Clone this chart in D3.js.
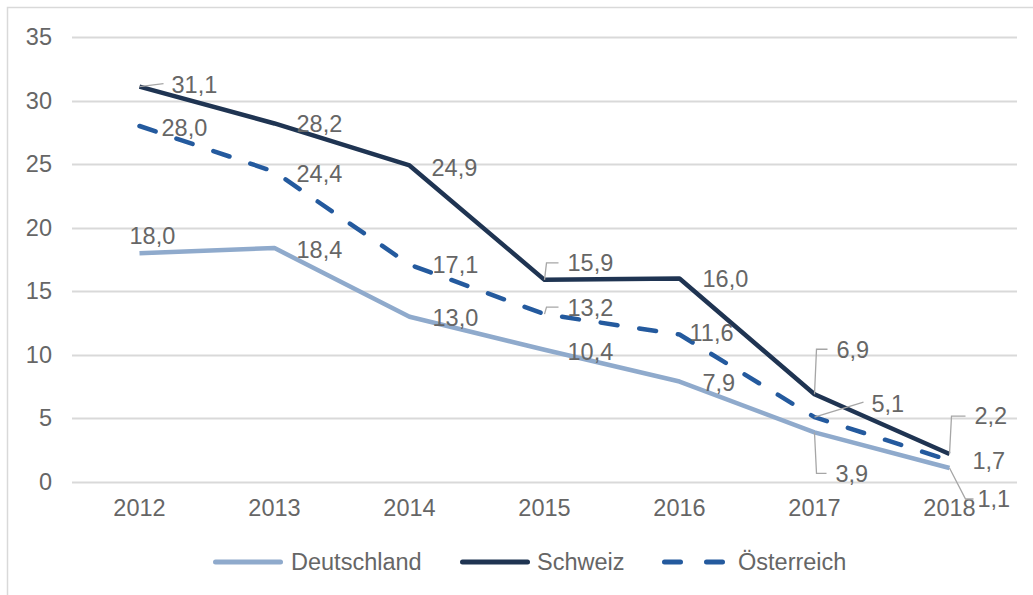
<!DOCTYPE html>
<html>
<head>
<meta charset="utf-8">
<script src="https://cdn.jsdelivr.net/npm/d3@7"></script>
<style>
  body { margin: 0; background: #fff; }
  text { font-family: "Liberation Sans", Arial, sans-serif; fill: #666666; }
</style>
</head>
<body>
<svg width="1033" height="595"></svg>
<script>
// data
var years = ["2012", "2013", "2014", "2015", "2016", "2017", "2018"];
var deutschland = [18.0, 18.4, 13.0, 10.4, 7.9, 3.9, 1.1];
var schweiz = [31.1, 28.2, 24.9, 15.9, 16.0, 6.9, 2.2];
var oesterreich = [28.0, 24.4, 17.1, 13.2, 11.6, 5.1, 1.7];
var yTicks = [0, 5, 10, 15, 20, 25, 30, 35];

// label offsets from the point [dx, dy, leader type]
var labelPos = {
  Deutschland: [[-10, -18, ""], [22, 1, ""], [23, 1, ""], [23, 2, ""], [23, 1, ""], [21, 41, "elbow"], [28, 31, "diag-elbow"]],
  Schweiz: [[32, -2, "line"], [22, 0, ""], [22, 2, ""], [23, -17, "elbow"], [23, 0, ""], [22, -45, "elbow"], [25, -38, "elbow"]],
  "Österreich": [[22, 2, ""], [22, 2, ""], [23, 0, ""], [23, -7, "elbow"], [10, -2, ""], [57, -14, "line"], [23, 0, ""]]
};

var series = [
  {name: "Deutschland", values: deutschland, color: "#8faacc", dash: null},
  {name: "Schweiz", values: schweiz, color: "#1f3452", dash: null},
  {name: "Österreich", values: oesterreich, color: "#245a9e", dash: "17,22"}
];

var svg = d3.select("svg"),
    margin = {top: 37, right: 16, bottom: 113, left: 72},
    width = 1033 - margin.left - margin.right,
    height = 595 - margin.top - margin.bottom;

// outer frame (top + left edges)
svg.append("path")
    .attr("d", "M7.5,595V7.5H1033")
    .attr("fill", "none")
    .attr("stroke", "#d9d9d9")
    .attr("stroke-width", 1.5);

var g = svg.append("g").attr("transform", "translate(" + margin.left + "," + margin.top + ")");

var x = d3.scaleBand().domain(years).range([0, width]);
var y = d3.scaleLinear().domain([0, 35]).range([height, 0]);

function px(i) { return x(years[i]) + x.bandwidth() / 2; }

// grid
g.append("g")
  .selectAll("line")
  .data(yTicks)
  .enter().append("line")
    .attr("x1", 0)
    .attr("x2", width)
    .attr("y1", function(d) { return Math.round(y(d)) + 0.5; })
    .attr("y2", function(d) { return Math.round(y(d)) + 0.5; })
    .attr("stroke", "#d9d9d9")
    .attr("stroke-width", 2);

// y axis labels
var yAxis = g.append("g")
    .call(d3.axisLeft(y).tickValues(yTicks).tickSize(0).tickPadding(20));
yAxis.select(".domain").remove();
yAxis.selectAll("text").style("font-size", "23.5px").attr("fill", "#666666");

// x axis labels
var xAxis = g.append("g")
    .attr("transform", "translate(0," + height + ")")
    .call(d3.axisBottom(x).tickSize(0).tickPadding(17));
xAxis.select(".domain").remove();
xAxis.selectAll("text").style("font-size", "23.5px").attr("fill", "#666666");

var line = d3.line()
    .x(function(d, i) { return px(i); })
    .y(function(d) { return y(d); });

series.forEach(function(s) {
  g.append("path")
      .datum(s.values)
      .attr("fill", "none")
      .attr("stroke", s.color)
      .attr("stroke-width", 4.5)
      .attr("stroke-linejoin", "round")
      .attr("stroke-linecap", s.dash ? "round" : "butt")
      .attr("stroke-dasharray", s.dash)
      .attr("d", line);
});

// data labels
series.forEach(function(s) {
  s.values.forEach(function(v, i) {
    var p = labelPos[s.name][i],
        x0 = px(i), y0 = y(v),
        lx = x0 + p[0], ly = y0 + p[1];
    var path = null;
    if (p[2] === "elbow") path = "M" + x0 + "," + y0 + "L" + (x0 + 2) + "," + ly + "L" + (lx - 9) + "," + ly;
    if (p[2] === "diag-elbow") path = "M" + x0 + "," + y0 + "L" + (x0 + 16) + "," + ly + "L" + (lx - 4) + "," + ly;
    if (p[2] === "line") path = "M" + x0 + "," + y0 + "L" + (lx - 8) + "," + (ly - 1);
    if (path) {
      g.append("path")
          .attr("d", path)
          .attr("fill", "none")
          .attr("stroke", "#a6a6a6")
          .attr("stroke-width", 1.3);
    }
    g.append("text")
        .attr("x", lx)
        .attr("y", ly)
        .attr("dy", "0.36em")
        .style("font-size", "23.5px")
        .text(d3.format(".1f")(v).replace(".", ","));
  });
});

// legend
var legendItems = [
  {s: series[0], x1: 213, x2: 283, tx: 291},
  {s: series[1], x1: 460, x2: 530, tx: 537},
  {s: series[2], x1: 662, x2: 727, tx: 738}
];
var legend = svg.append("g").attr("transform", "translate(0,562)");
legendItems.forEach(function(it) {
  legend.append("line")
      .attr("x1", it.x1 + 2.5)
      .attr("x2", it.x2 - 2.5)
      .attr("stroke", it.s.color)
      .attr("stroke-width", 5)
      .attr("stroke-linecap", "round")
      .attr("stroke-dasharray", it.s.dash ? "16,26" : null);
  legend.append("text")
      .attr("x", it.tx)
      .attr("dy", "0.36em")
      .style("font-size", "23.5px")
      .text(it.s.name);
});
</script>
</body>
</html>
